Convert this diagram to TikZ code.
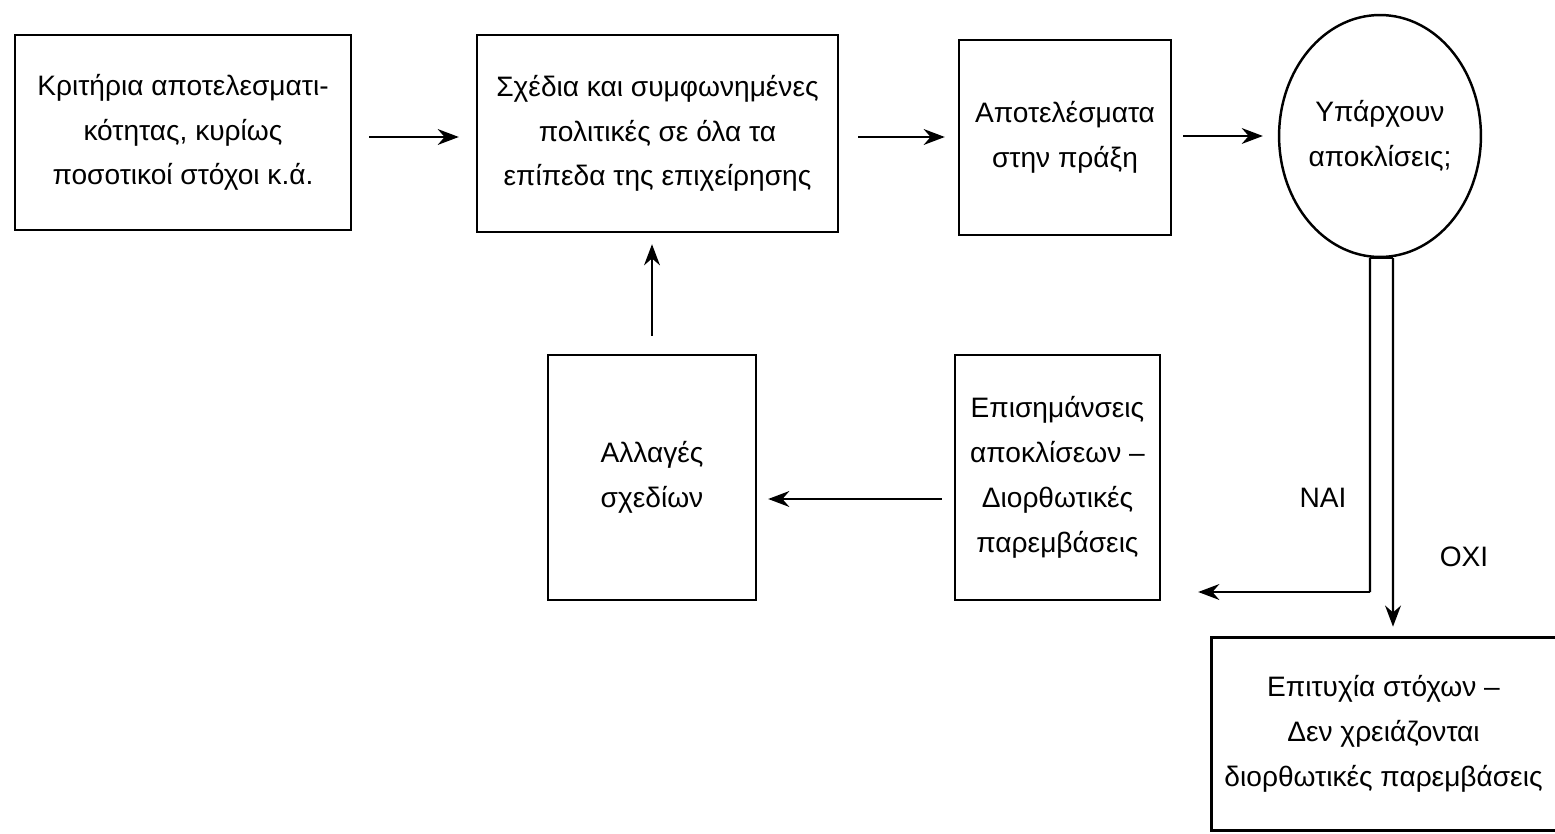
\documentclass[tikz,border=0pt]{standalone}
\usepackage{fontspec}
\setmainfont{Liberation Sans}
\usetikzlibrary{shapes.geometric,arrows.meta}
\begin{document}
\begin{tikzpicture}[x=0.02cm,y=-0.02cm,
  every node/.style={font=\fontsize{16}{25.5}\selectfont, align=center, inner sep=0pt},
  box/.style={draw, line width=1.4pt, rectangle},
  oval/.style={draw, line width=1.4pt, ellipse},
  conn/.style={line width=1.4pt},
  arr/.style={conn, -{Stealth[length=12pt,width=9pt]}},
  lbl/.style={font=\fontsize{16}{18}\selectfont}]
\useasboundingbox (0,0) rectangle (1555,834);
\node[box, minimum width=6.72cm, minimum height=3.9cm] (b1) at (183,132.5)
  {Κριτήρια αποτελεσματι-\\κότητας, κυρίως\\ποσοτικοί στόχοι κ.ά.};
\node[box, minimum width=7.22cm, minimum height=3.94cm] (b2) at (657.5,133.5)
  {Σχέδια και συμφωνημένες\\πολιτικές σε όλα τα\\επίπεδα της επιχείρησης};
\node[box, minimum width=4.24cm, minimum height=3.9cm] (b3) at (1065,137.5)
  {Αποτελέσματα\\στην πράξη};
\node[oval, minimum width=3.72cm, minimum height=4.84cm] (q) at (1380,136)
  {Υπάρχουν\\αποκλίσεις;};
\node[box, minimum width=4.16cm, minimum height=4.9cm] (b4) at (652,477.5)
  {Αλλαγές\\σχεδίων};
\node[box, minimum width=4.1cm, minimum height=4.9cm] (b5) at (1057.5,477.5)
  {Επισημάνσεις\\αποκλίσεων –\\Διορθωτικές\\παρεμβάσεις};
\node[minimum width=6.86cm, minimum height=3.84cm] (b6) at (1383.5,734)
  {Επιτυχία στόχων –\\Δεν χρειάζονται\\διορθωτικές παρεμβάσεις};
\draw[conn] (b6.north east) -- (b6.north west) -- (b6.south west) -- (b6.south east);

\draw[arr, shorten <=0.34cm, shorten >=0.34cm] (b1.east |- 0,137) -- (b2.west |- 0,137);
\draw[arr, shorten <=0.38cm, shorten >=0.26cm] (b2.east |- 0,137) -- (b3.west |- 0,137);
\draw[arr, shorten <=0.22cm, shorten >=0.3cm] (b3.east |- 0,136) -- (q.west |- 0,136);
\draw[arr, shorten <=0.36cm, shorten >=0.22cm] (b4.north) -- (b2.south -| b4.north);
\draw[arr, shorten <=0.24cm, shorten >=0.22cm] (b5.west |- 0,499) -- (b4.east |- 0,499);

\coordinate (nai) at (1370,592);
\draw[conn] ([xshift=-0.2cm]q.south) -- ([xshift=0.26cm]q.south);
\draw[conn] ([xshift=-0.2cm]q.south) -- (nai);
\draw[arr, shorten >=0.74cm] (nai) -- (b5.east |- nai);
\draw[arr, shorten >=0.22cm] ([xshift=0.26cm]q.south) -- (b6.north -| 1393,0);

\node[lbl] (nl) at (1323,498) {ΝΑΙ};
\node[lbl] (ol) at (1464,557) {ΟΧΙ};
\end{tikzpicture}
\end{document}
